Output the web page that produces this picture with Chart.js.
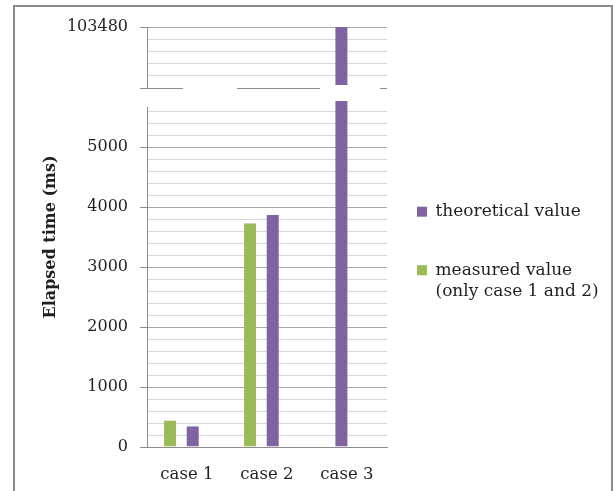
<!DOCTYPE html>
<html><head><meta charset="utf-8">
<script src="https://cdn.jsdelivr.net/npm/chart.js@4.4.1/dist/chart.umd.min.js"></script>
<style>
html,body{margin:0;padding:0;background:#fff;}
#wrap{position:relative;width:613px;height:491px;overflow:hidden;background:#fff;}
#c{position:absolute;left:0;top:0;}
#frame{position:absolute;left:13px;top:5px;width:600px;height:500px;box-sizing:border-box;border:2px solid #8c8c8c;border-bottom:none;pointer-events:none;}
</style></head><body>
<div id="wrap"><canvas id="c" width="613" height="491"></canvas><div id="frame"></div></div>
<script>
// ---- data ----
const categories = ['case 1', 'case 2', 'case 3'];
const measured = [440, 3730, null];
const theoretical = [345, 3867, 103480];
const measuredLegend = ['measured value', '(only case 1 and 2)'];
const theoreticalLegend = ['theoretical value', ''];
const axisTitle = 'Elapsed time (ms)';
const lowerMax = 5670;
const upperMin = 102480;
const upperMax = 103480;
const minorStep = 200;
const majorStep = 1000;

// ---- style ----
const ink = '#1f1f1f';
const axisGray = '#8c8c8c';
const majorGray = '#aaaaaa';
const minorGray = '#d6d6d6';
const purple = '#8064A2';
const green = '#9BBB59';
const serif = "'DejaVu Serif', 'Liberation Serif', serif";
const clear = 'rgba(0,0,0,0)';

const pts = arr => arr.map((v, i) => ({x: i, y: v}));
const upperPart = theoretical.map(v => (v !== null && v > upperMin) ? v : null);
const stepTicks = (lo, hi) => { const t = []; for (let v = lo; v <= hi + 1e-9; v += minorStep) t.push({value: v}); return t; };

const barStyle = {
  barThickness: 22.67,
  borderWidth: {left: 5.33, right: 5.33, top: 0, bottom: 0},
  borderColor: clear,
  borderSkipped: false,
  inflateAmount: 0,
  skipNull: true,
  xAxisID: 'x'
};

new Chart(document.getElementById('c'), {
  type: 'bar',
  data: {
    datasets: [
      Object.assign({label: measuredLegend.join(' '), data: pts(measured), backgroundColor: green, yAxisID: 'y', stack: 'm', clip: {left: 0, right: 0, top: 6, bottom: 0}}, barStyle),
      Object.assign({label: theoreticalLegend[0], data: pts(theoretical), backgroundColor: purple, yAxisID: 'y', stack: 't', clip: {left: 0, right: 0, top: 6, bottom: 0}}, barStyle),
      Object.assign({label: theoreticalLegend[0] + ' (upper)', data: pts(upperPart), backgroundColor: purple, yAxisID: 'yTop', stack: 't', clip: {left: 0, right: 0, top: 0, bottom: -3}}, barStyle)
    ]
  },
  options: {
    responsive: false,
    animation: false,
    devicePixelRatio: 1,
    layout: {padding: {top: 27, left: 0, right: 11, bottom: 0}},
    scales: {
      x: {
        type: 'linear', position: 'bottom', min: -0.43, max: 2.57, offset: false,
        afterBuildTicks: s => { s.ticks = categories.map((c, i) => ({value: i})); },
        afterFit: s => { s.height = 44; },
        grid: {display: false, drawTicks: false, offset: false},
        border: {display: true, color: axisGray, width: 1},
        ticks: {callback: v => categories[v], font: {family: serif, size: 16.5}, color: ink, padding: 18, labelOffset: 5.5, maxRotation: 0, autoSkip: false}
      },
      y: {
        type: 'linear', position: 'left', stack: 'v', stackWeight: 340, weight: 1,
        min: 0, max: lowerMax,
        afterBuildTicks: s => { s.ticks = stepTicks(0, lowerMax); },
        afterFit: s => { s.width = 87; },
        grid: {
          color: c => (c.tick && c.tick.value % majorStep === 0) ? majorGray : minorGray,
          tickColor: c => (c.tick && c.tick.value % majorStep === 0) ? axisGray : clear,
          tickLength: 7, lineWidth: 1
        },
        border: {display: true, color: axisGray},
        ticks: {callback: v => v % majorStep === 0 ? String(v) : '', font: {family: serif, size: 16}, color: ink, padding: 12, autoSkip: false}
      },
      yGap: {
        type: 'linear', position: 'left', stack: 'v', stackWeight: 19, weight: 2,
        min: 0, max: 1,
        afterBuildTicks: s => { s.ticks = [{value: 1}]; },
        afterFit: s => { s.width = 87; },
        grid: {color: axisGray, tickColor: axisGray, tickLength: 7, lineWidth: 1},
        border: {display: false, dash: [36, 54, 83, 60]},
        ticks: {display: false}
      },
      yTop: {
        type: 'linear', position: 'left', stack: 'v', stackWeight: 61, weight: 3,
        min: upperMin, max: upperMax,
        afterBuildTicks: s => { s.ticks = stepTicks(upperMin, upperMax); },
        afterFit: s => { s.width = 87; },
        grid: {
          color: c => !c.tick ? minorGray : (c.tick.value === upperMax ? majorGray : (c.tick.value === upperMin ? clear : minorGray)),
          tickColor: c => (c.tick && c.tick.value === upperMax) ? axisGray : clear,
          tickLength: 7, lineWidth: 1
        },
        border: {display: true, color: axisGray},
        ticks: {callback: v => v === upperMax ? String(v) : '', font: {family: serif, size: 16}, color: ink, padding: 12, autoSkip: false}
      },
      yTitle: {
        type: 'linear', position: 'left', weight: 10, min: 0, max: 1,
        afterFit: s => { s.width = 60; },
        grid: {display: false, drawTicks: false},
        border: {display: false},
        ticks: {display: false},
        title: {display: true, text: axisTitle, font: {family: serif, size: 16, weight: 'bold'}, color: ink, padding: {top: 41, bottom: 0}}
      },
      ySpace: {
        type: 'linear', position: 'right', weight: 0, min: 0, max: 1,
        afterFit: s => { s.width = 15; },
        grid: {display: false, drawTicks: false},
        border: {display: false},
        ticks: {display: false}
      }
    },
    plugins: {
      tooltip: {enabled: false},
      legend: {
        position: 'right', align: 'start', fullSize: false, maxWidth: 200,
        title: {display: true, text: '', padding: {top: 146.8, bottom: 0}, font: {size: 12}},
        labels: {
          boxWidth: 10, boxHeight: 10, padding: 15,
          font: {family: serif, size: 17, lineHeight: 1.28}, color: ink,
          generateLabels: chart => [
            {text: theoreticalLegend, fillStyle: purple, strokeStyle: purple, lineWidth: 0, hidden: false, datasetIndex: 1, fontColor: ink},
            {text: measuredLegend, fillStyle: green, strokeStyle: green, lineWidth: 0, hidden: false, datasetIndex: 0, fontColor: ink}
          ]
        }
      }
    }
  }
});
</script>
</body></html>
